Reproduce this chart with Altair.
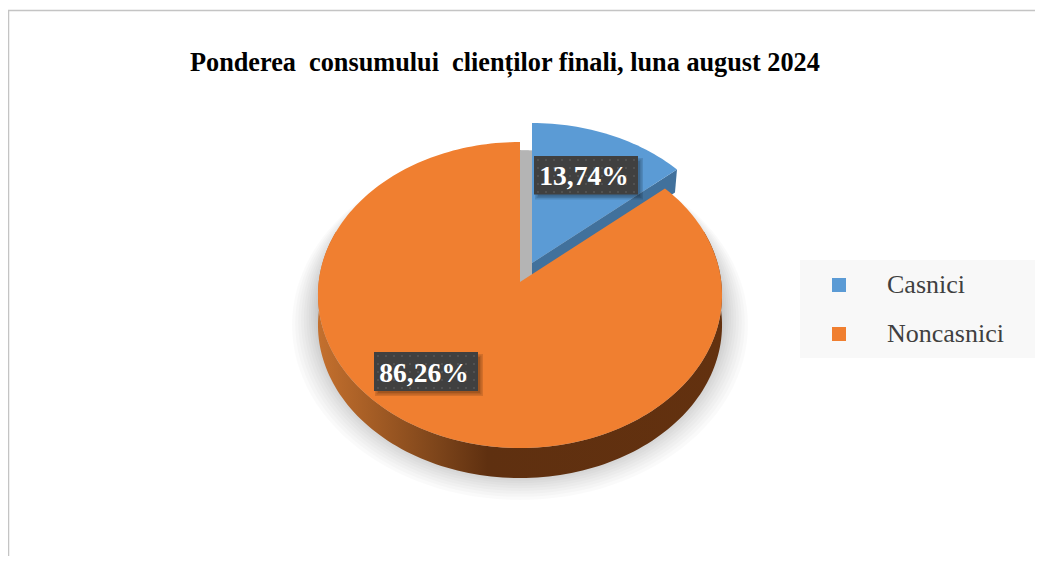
import math
import altair as alt
import pandas as pd

categories = ["Casnici", "Noncasnici"]
shares = [13.74, 86.26]
labels = ["13,74%", "86,26%"]
colors = ["#5b9bd5", "#f07f30"]
title_text = "Ponderea\u00a0 consumului\u00a0 clienților finali, luna august 2024"

W, H = 1027, 548
SERIF = "Liberation Serif"

# perspective view of the pie plane, so that the shares set the slice edges
CX, CY, A, B, K = 520, 282, 201.3, 151.9, 0.085


def rim(deg, dx=0.0, dy=0.0, depth=0.0):
    t = math.radians(deg)
    u, v = math.sin(t), math.cos(t)
    w = 1 + K * v
    return CX + dx + A * u / w, CY + dy - B * v / w + depth


def sweep(a0, a1, **kw):
    n = max(2, int(abs(a1 - a0) / 1.5))
    return [rim(a0 + (a1 - a0) * i / n, **kw) for i in range(n + 1)]


split = 360 * shares[0] / sum(shares)
EX, EY = 12, -19  # explosion of the first slice

polys = {}
polys["blue_top"] = [(CX + EX, CY + EY)] + sweep(0, split, dx=EX, dy=EY)
corner = rim(split, dx=EX, dy=EY)
polys["blue_wall"] = [
    (CX + EX, CY + EY), corner, (corner[0] - 2, corner[1] + 23), (CX + EX, CY + EY + 23),
]
polys["orange_top"] = [(CX, CY)] + sweep(split, 360)
polys["orange_wall"] = sweep(70, 290) + sweep(290, 70, depth=30)

shadow = {}
N_SHADOW = 16
for i in range(N_SHADOW):
    t = (i / (N_SHADOW - 1)) ** 1.6
    rx, top, bot = 198 + 30 * t, 150, 470 + 30 * t
    ry, cy = (bot - top) / 2, (bot + top) / 2
    shadow[f"s{i}"] = [
        (CX + rx * math.sin(math.radians(a)), cy - ry * math.cos(math.radians(a)))
        for a in range(0, 360, 3)
    ]


def table(d):
    return pd.DataFrame(
        [
            {"poly": k, "ord": i, "x": p[0], "y": p[1]}
            for k, pts in d.items()
            for i, p in enumerate(pts)
        ]
    )


# data are in page pixels: the plot area starts at the page's 8px margin
X = alt.Scale(domain=[8, 8 + W], range=[0, W])
Y = alt.Scale(domain=[8, 8 + H], range=[0, H])
x_ = alt.X("x:Q", scale=X, axis=None)
y_ = alt.Y("y:Q", scale=Y, axis=None)


def poly(name, fill):
    return (
        alt.Chart(table({name: polys[name]}))
        .mark_line(fill=fill, strokeWidth=0, strokeOpacity=0, clip=False)
        .encode(x=x_, y=y_, order="ord:Q")
    )


shadow_layer = (
    alt.Chart(table(shadow))
    .mark_line(fill="#000000", fillOpacity=0.021, strokeWidth=0, strokeOpacity=0)
    .encode(x=x_, y=y_, order="ord:Q", detail="poly:N")
)

wall_gradient = alt.LinearGradient(
    gradient="linear", x1=0, x2=1, y1=0, y2=0,
    stops=[
        alt.GradientStop(offset=0, color="#c4702e"),
        alt.GradientStop(offset=0.12, color="#a85f26"),
        alt.GradientStop(offset=0.3, color="#7c441a"),
        alt.GradientStop(offset=0.42, color="#5f3010"),
        alt.GradientStop(offset=1, color="#63310f"),
    ],
)


def rects(rows, color, opacity=1.0):
    return (
        alt.Chart(pd.DataFrame(rows, columns=["x", "x2", "y", "y2"]))
        .mark_rect(color=color, opacity=opacity)
        .encode(x=x_, x2="x2:Q", y=y_, y2="y2:Q")
    )


boxes = [(534, 638, 156, 194.5), (374, 478, 352, 391)]
box_shadow = []
for b in boxes:
    for g in (0, 1.5, 3):
        box_shadow.append((b[0] + 4 - g, b[1] + 2 + g, b[2] + 5 - g, b[3] + 2 + g))

dots = pd.DataFrame(
    [
        {"x": b[0] + 4 + i * 8, "y": b[2] + 4 + j * 8}
        for b in boxes
        for i in range(13)
        for j in range(5)
    ]
)
dot_layer = (
    alt.Chart(dots)
    .mark_square(size=3, color="#5e5e5e", opacity=0.9)
    .encode(x=x_, y=y_)
)

label_df = pd.DataFrame(
    {
        "x": [(b[0] + b[1]) / 2 - 2 for b in boxes],
        "y": [(b[2] + b[3]) / 2 + 2 for b in boxes],
        "t": labels,
    }
)
label_layer = (
    alt.Chart(label_df)
    .mark_text(font=SERIF, fontSize=27.5, fontWeight="bold", color="#ffffff", baseline="middle", align="center")
    .encode(x=x_, y=y_, text="t:N")
)

frame_top = (
    alt.Chart(pd.DataFrame({"x": [8], "x2": [8 + W], "y": [10.5]}))
    .mark_rule(color="#c4c4c4", strokeWidth=1.5)
    .encode(x=x_, x2="x2:Q", y=y_)
)
frame_left = (
    alt.Chart(pd.DataFrame({"x": [8.5], "y": [10], "y2": [8 + H]}))
    .mark_rule(color="#c4c4c4", strokeWidth=1.5)
    .encode(x=x_, y=y_, y2="y2:Q")
)

legend_panel = rects([(800, 1035, 260, 358)], "#f8f8f8")
legend_df = pd.DataFrame({"cat": categories, "x": [839, 839], "y": [285, 334]})
legend_syms = (
    alt.Chart(legend_df)
    .mark_square(size=196, opacity=1)
    .encode(
        x=x_, y=y_,
        color=alt.Color("cat:N", scale=alt.Scale(domain=categories, range=colors), legend=None),
    )
)
legend_text = (
    alt.Chart(legend_df.assign(lx=887))
    .mark_text(font=SERIF, fontSize=26, color="#404040", align="left", baseline="middle")
    .encode(x=alt.X("lx:Q", scale=X, axis=None), y=y_, text="cat:N")
)

chart = (
    alt.layer(
        frame_top, frame_left,
        shadow_layer,
        poly("blue_wall", "#41719c"),
        poly("blue_top", colors[0]),
        poly("orange_wall", wall_gradient),
        poly("orange_top", colors[1]),
        rects(box_shadow, "#000000", 0.12),
        rects(boxes, "#404040"),
        dot_layer,
        label_layer,
        legend_panel, legend_syms, legend_text,
    )
    .properties(
        width=W, height=H,
        padding=0,
        autosize=alt.AutoSizeParams(type="none"),
        title=alt.TitleParams(
            text=title_text, anchor="start", font=SERIF, fontSize=26.25, fontWeight="bold",
            color="#000000", dx=182, dy=72, frame="group",
        ),
    )
    .configure_view(stroke=None)
)

chart.save("out.html", embed_options={"renderer": "svg", "actions": False})
